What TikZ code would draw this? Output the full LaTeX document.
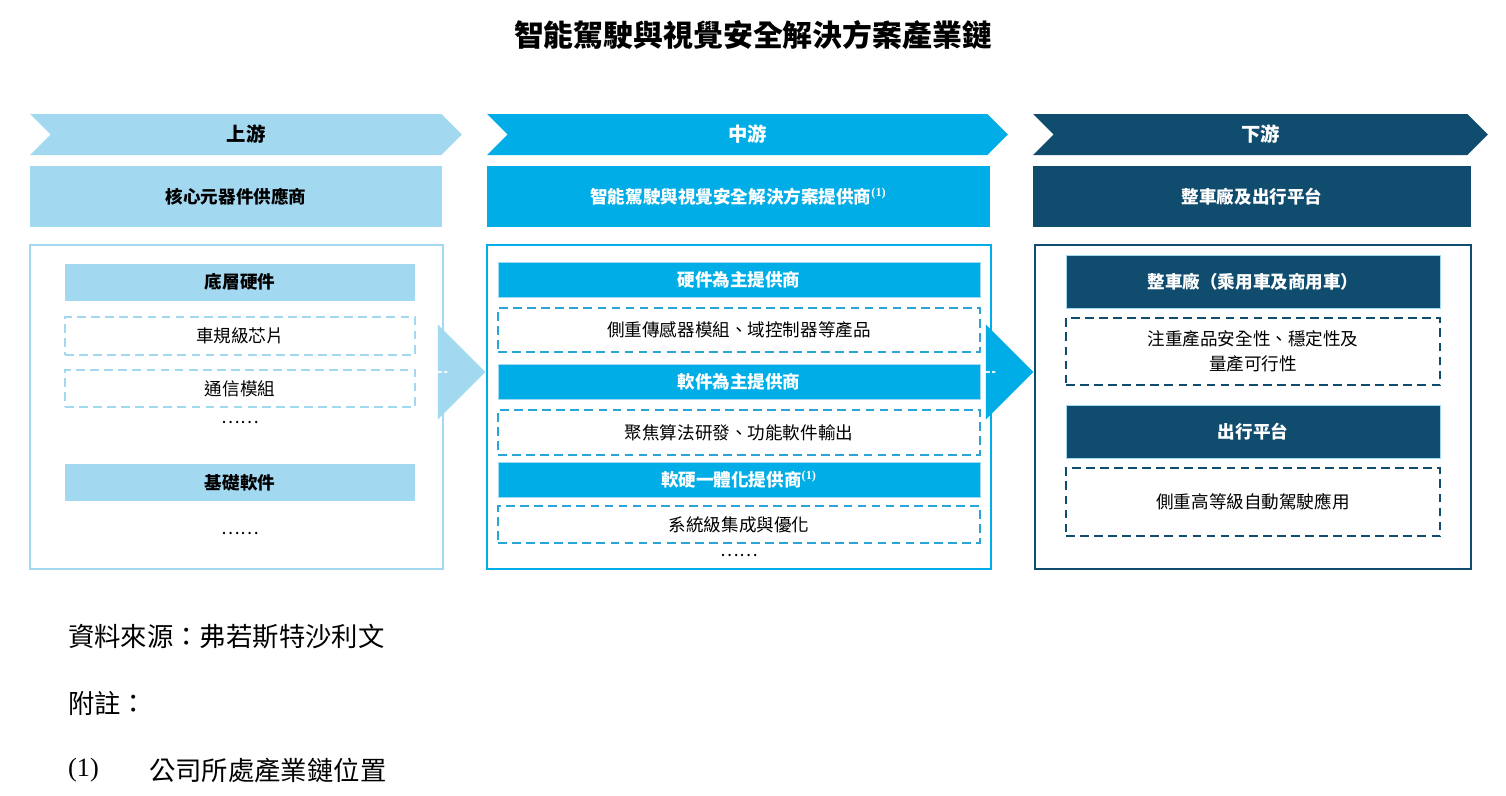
\documentclass[tikz,border=0pt]{standalone}
\usepackage{fontspec}
\setmainfont{Noto Sans CJK TC}
\newfontfamily\latinfont{Liberation Serif}
\definecolor{upcolor}{RGB}{163,216,241}
\definecolor{midcolor}{RGB}{0,173,230}
\definecolor{downcolor}{RGB}{15,76,110}
\definecolor{dashmid}{RGB}{42,166,214}
\usetikzlibrary{shapes.symbols,shapes.arrows,positioning}
\tikzstyle{chevron}=[signal,signal from=west,signal to=east,signal pointer angle=90,minimum height=0.82cm,inner sep=0pt,font=\fontsize{11}{13}\selectfont\bfseries]
\tikzstyle{header}=[minimum height=1.22cm,inner sep=0pt,font=\fontsize{10}{12}\selectfont\bfseries]
\tikzstyle{outer}=[line width=1.6pt,minimum height=6.48cm,inner sep=0pt]
\tikzstyle{bar}=[inner sep=0pt,font=\fontsize{10}{12}\selectfont\bfseries]
\tikzstyle{dbox}=[dashed,line width=1.6pt,dash pattern=on 5pt off 3pt,inner sep=0pt,align=center,font=\fontsize{10}{14}\selectfont]
\tikzstyle{flow}=[single arrow,minimum height=0.76cm,minimum width=1.9cm,single arrow head extend=0.35cm,inner sep=0pt]
\begin{document}
\begin{tikzpicture}[x=0.02cm,y=-0.02cm]
\useasboundingbox (0,0) rectangle (1506,795);
\node[font=\fontsize{17}{20}\selectfont\bfseries] (title) at (753,35) {智能駕駛與視覺安全解決方案產業鏈};

% chevrons
\node[chevron,fill=upcolor,text=black,minimum width=8.64cm] (up) at (246,134.5) {上游};
\node[chevron,fill=midcolor,text=white,minimum width=10.42cm] (mid) at (747.5,134.5) {中游};
\node[chevron,fill=downcolor,text=white,minimum width=9.1cm] (down) at (1260.5,134.5) {下游};

% headers
\node[header,fill=upcolor,minimum width=8.24cm] (uphead) at (236,196.5) {核心元器件供應商};
\node[header,fill=midcolor,text=white,minimum width=10.06cm] (midhead) at (738.5,196.5) {智能駕駛與視覺安全解決方案提供商\textsuperscript{\latinfont(1)}};
\node[header,fill=downcolor,text=white,minimum width=8.76cm] (downhead) at (1252,196.5) {整車廠及出行平台};

% outer boxes
\node[outer,draw=upcolor,minimum width=8.26cm] (upbox) at (236.5,407) {};
\node[outer,draw=midcolor,minimum width=10.08cm] (midbox) at (739,407) {};
\node[outer,draw=downcolor,minimum width=8.72cm] (downbox) at (1253,407) {};

% upstream
\node[bar,fill=upcolor,minimum width=7cm,minimum height=0.74cm] (hw) at (240,282) {底層硬件};
\node[dbox,draw=upcolor,minimum width=7cm,minimum height=0.76cm] (chip) at (240,336) {車規級芯片};
\node[dbox,draw=upcolor,minimum width=7cm,minimum height=0.74cm] (comm) at (240,388.5) {通信模組};
\node (updots1) at (240,422) {……};
\node[bar,fill=upcolor,minimum width=7cm,minimum height=0.74cm] (sw) at (240,482.5) {基礎軟件};
\node (updots2) at (240,533) {……};

% midstream
\node[bar,fill=midcolor,text=white,draw=upcolor,minimum width=9.64cm,minimum height=0.7cm] (hwmain) at (739,279.5) {硬件為主提供商};
\node[dbox,draw=dashmid,minimum width=9.64cm,minimum height=0.88cm] (hwdesc) at (739,330) {側重傳感器模組、域控制器等產品};
\node[bar,fill=midcolor,text=white,draw=upcolor,minimum width=9.64cm,minimum height=0.7cm] (swmain) at (739,381.5) {軟件為主提供商};
\node[dbox,draw=dashmid,minimum width=9.64cm,minimum height=0.9cm] (swdesc) at (739,432.5) {聚焦算法研發、功能軟件輸出};
\node[bar,fill=midcolor,text=white,draw=upcolor,minimum width=9.64cm,minimum height=0.7cm] (full) at (739,479.5) {軟硬一體化提供商\textsuperscript{\latinfont(1)}};
\node[dbox,draw=dashmid,minimum width=9.64cm,minimum height=0.74cm] (fulldesc) at (739,524.5) {系統級集成與優化};
\node (middots) at (739,555) {……};

% downstream
\node[bar,fill=downcolor,text=white,draw=upcolor,minimum width=7.48cm,minimum height=1.06cm] (oem) at (1253,281.5) {整車廠（乘用車及商用車）};
\node[dbox,draw=downcolor,minimum width=7.48cm,minimum height=1.34cm] (oemdesc) at (1253,351.5) {注重產品安全性、穩定性及\\量產可行性};
\node[bar,fill=downcolor,text=white,draw=upcolor,minimum width=7.48cm,minimum height=1.06cm] (mobility) at (1253,431.5) {出行平台};
\node[dbox,draw=downcolor,minimum width=7.48cm,minimum height=1.36cm] (mobdesc) at (1253,502) {側重高等級自動駕駛應用};

% flow arrows
\node[flow,fill=upcolor] (flow1) at (466,372) {};
\node[flow,fill=midcolor] (flow2) at (1014,372) {};

% notes
\node[anchor=west,font=\fontsize{15}{18}\selectfont\itshape] (source) at (62,637) {資料來源：弗若斯特沙利文};
\node[anchor=west,font=\fontsize{15}{18}\selectfont\itshape] (notes) at (62,703) {附註：};
\node[anchor=west,font=\fontsize{15}{18}\selectfont\latinfont] (n1) at (62,770) {(1)};
\node[anchor=west,font=\fontsize{15}{18}\selectfont] (n1text) at (143,770) {公司所處產業鏈位置};
\end{tikzpicture}
\end{document}
